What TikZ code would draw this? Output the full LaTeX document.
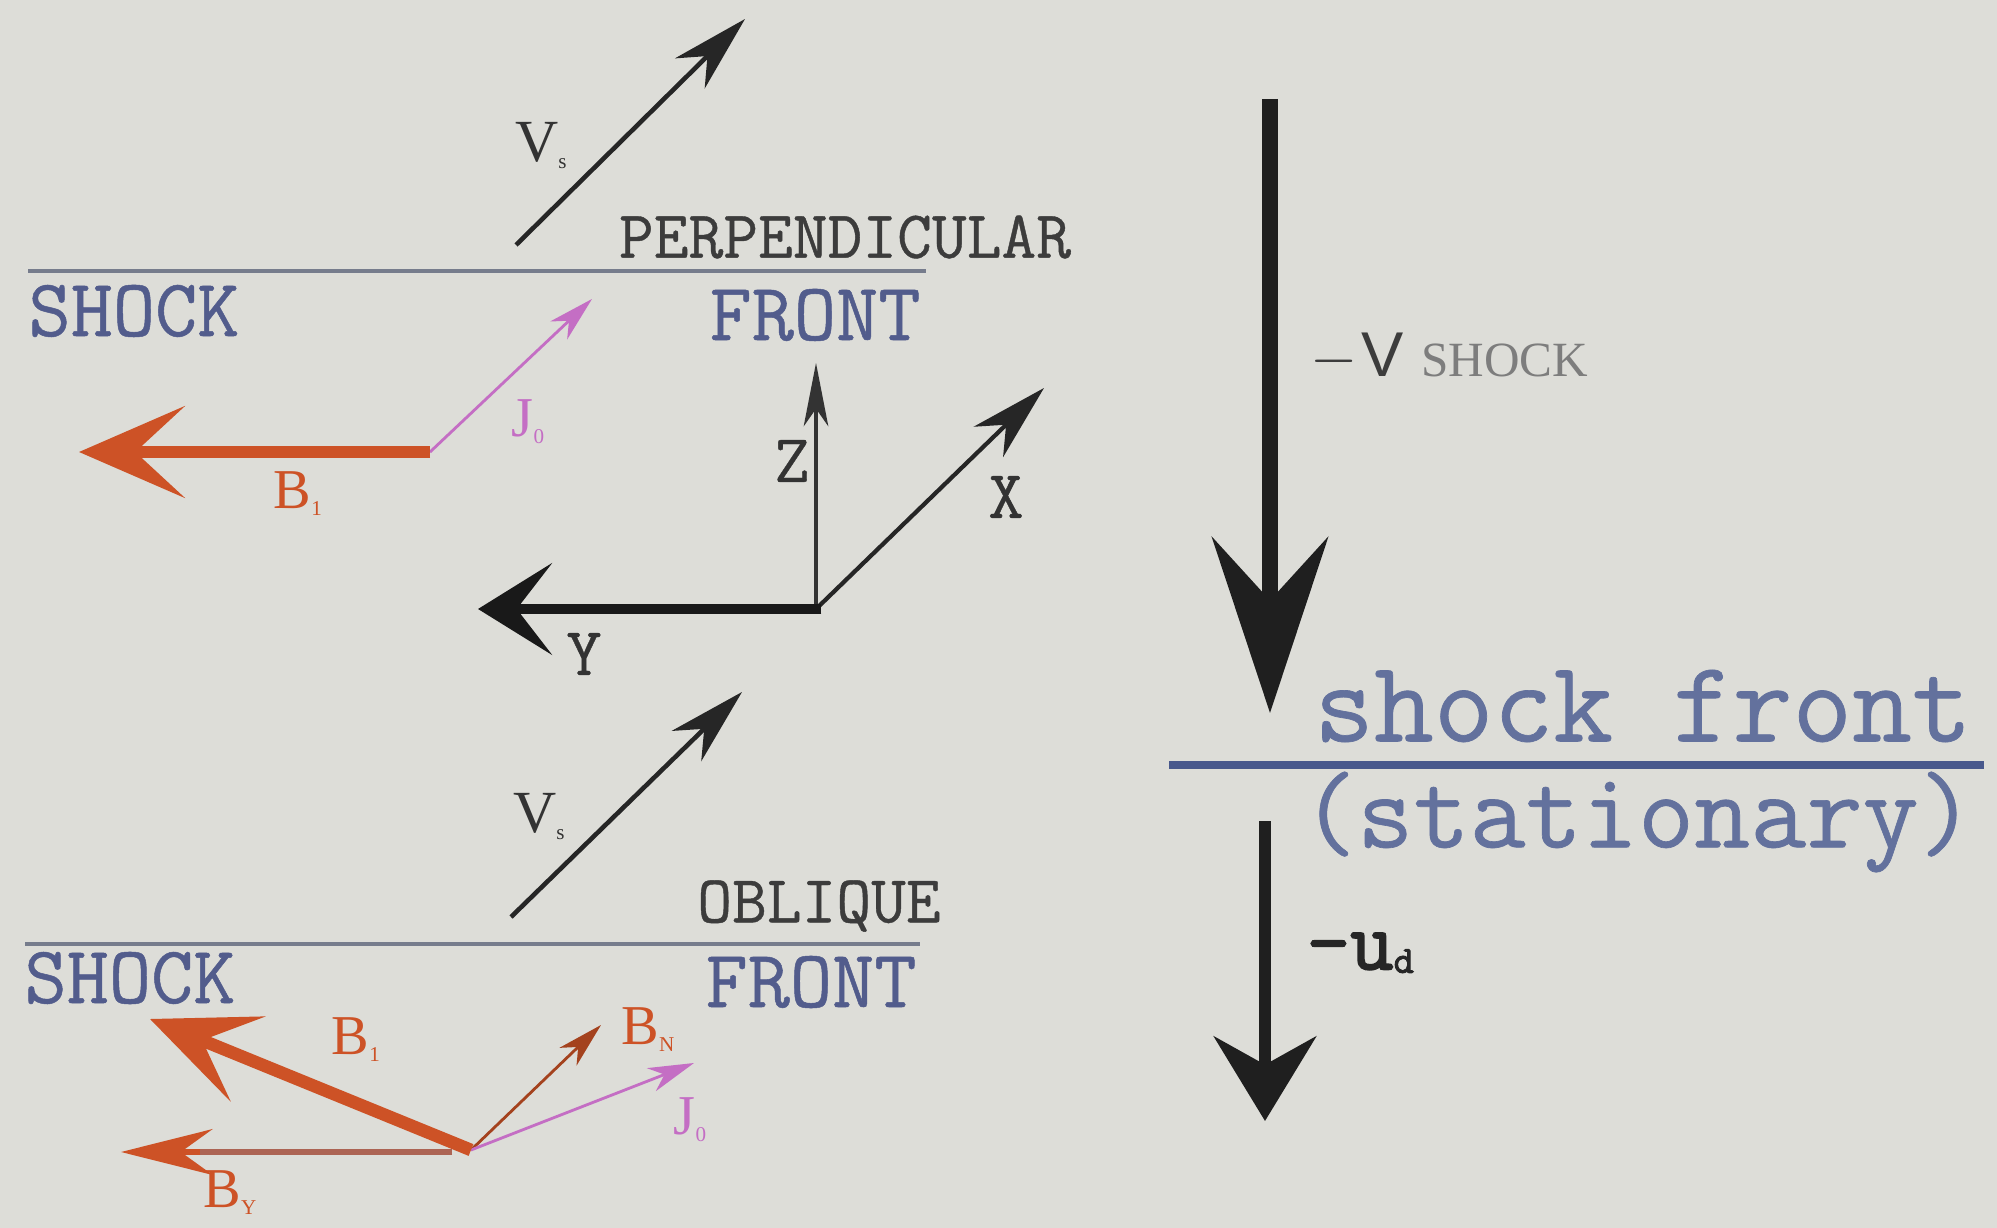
\documentclass[tikz,border=0pt]{standalone}
\usepackage{fontspec}
\usetikzlibrary{arrows.meta}
\newfontfamily\monof[FakeBold=0.6]{Latin Modern Mono}
\newfontfamily\monobf[FakeBold=2.2]{Latin Modern Mono}
\newfontfamily\seriff{Liberation Serif}
\newfontfamily\sansf{Liberation Sans}
\definecolor{bgcol}{RGB}{221,221,216}
\definecolor{orng}{RGB}{205,82,38}
\definecolor{mgnt}{RGB}{196,110,196}
\definecolor{bluetxt}{RGB}{82,92,140}
\definecolor{graytxt}{RGB}{60,60,60}
\definecolor{lightgraytxt}{RGB}{125,125,125}
\definecolor{frontline}{RGB}{118,124,140}
\definecolor{frontblue}{RGB}{72,88,140}
\definecolor{brownline}{RGB}{172,100,84}
\newcommand{\lbl}[2]{#1\raisebox{-2pt}{\fontsize{6}{6}\selectfont #2}}
\begin{document}
\begin{tikzpicture}[x=0.01cm,y=-0.01cm,
  thinblk/.style={draw=black!85, line width=1.3pt, -{Stealth[length=22pt,width=12pt,inset=7pt]}},
  zaxis/.style={draw=black!80, line width=0.9pt, -{Stealth[length=18pt,width=7pt,inset=5pt]}},
  thickblk/.style={draw=black!90, line width=3pt, -{Stealth[length=21pt,width=26pt,inset=10pt]}},
  thickor/.style={draw=orng, line width=3.6pt, -{Stealth[length=30pt,width=26pt,inset=14pt]}},
  thinor/.style={draw=orng!80!black, line width=0.8pt, -{Stealth[length=13pt,width=7pt,inset=4pt]}},
  thinmg/.style={draw=mgnt, line width=0.8pt, -{Stealth[length=13pt,width=7pt,inset=4pt]}},
  bylinestyle/.style={draw=brownline, line width=1.9pt},
  byhead/.style={draw=orng, -{Stealth[length=26pt,width=13pt,inset=9pt]}},
  bigdown/.style={draw=black!88, line width=4.3pt, -{Stealth[length=50pt,width=33pt,inset=18pt]}},
  smalldown/.style={draw=black!88, line width=3.4pt, -{Stealth[length=24pt,width=29pt,inset=8pt]}},
  shockline/.style={draw=frontline, line width=1.4pt},
  frontlbl/.style={text=bluetxt, font=\monof\fontsize{23.3}{25}\selectfont, inner sep=0pt},
  typelbl/.style={text=graytxt, font=\monof\fontsize{19.2}{21}\selectfont, inner sep=0pt},
  axlbl/.style={text=black!80, font=\monof\fontsize{19.5}{21}\selectfont, inner sep=0pt},
  vlbl/.style={text=black!80, font=\seriff\fontsize{17}{18}\selectfont, inner sep=0pt},
  orlbl/.style={text=orng, font=\seriff\fontsize{16}{18}\selectfont, inner sep=0pt},
  mglbl/.style={text=mgnt, font=\seriff\fontsize{16}{18}\selectfont, inner sep=0pt},
  biglbl/.style={text=frontblue!85, font=\monof\fontsize{33}{35}\selectfont, inner sep=0pt}
]
\fill[bgcol] (0,0) rectangle (1997,1228);
\useasboundingbox (0,0) rectangle (1997,1228);

% ---------- top panel (perpendicular) ----------
\coordinate (vsA1) at (516,245);
\coordinate (vsA2) at (745,19);
\draw[thinblk] (vsA1) -- (vsA2);
\node[vlbl] (vsAl) at (541,146) {\lbl{V}{s}};

\coordinate (shA1) at (28,271);
\coordinate (shA2) at (926,271);
\draw[shockline] (shA1) -- (shA2);
\node[typelbl] (perp) at (845,237) {PERPENDICULAR};
\node[frontlbl] (shockA) at (134,311) {SHOCK};
\node[frontlbl] (frontA) at (815,315) {FRONT};

\coordinate (oA) at (430,452);
\coordinate (jA) at (592,299);
\coordinate (bA) at (79,452);
\draw[thinmg] (oA) -- (jA);
\draw[thickor] (oA) -- (bA);
\node[mglbl] (jAl) at (528,422) {\lbl{J}{0}};
\node[orlbl] (bAl) at (298,494) {\lbl{B}{1}};

% axes
\coordinate (ax0) at (816,609);
\coordinate (axZ) at (816,363);
\coordinate (axX) at (1044,388);
\coordinate (axY) at (478,609);
\draw[zaxis] (ax0) -- (axZ);
\draw[thinblk, line width=1.2pt] (ax0) -- (axX);
\draw[thickblk] ([xshift=1.5pt]ax0) -- (axY);
\node[axlbl] (zl) at (792,461) {Z};
\node[axlbl] (xl) at (1006,497) {X};
\node[axlbl] (yl) at (584,654) {Y};

% ---------- bottom panel (oblique) ----------
\coordinate (vsB1) at (511,917);
\coordinate (vsB2) at (742,692);
\draw[thinblk] (vsB1) -- (vsB2);
\node[vlbl] (vsBl) at (539,817) {\lbl{V}{s}};

\coordinate (shB1) at (25,944);
\coordinate (shB2) at (920,944);
\draw[shockline] (shB1) -- (shB2);
\node[typelbl] (obl) at (819,906) {OBLIQUE};
\node[frontlbl] (shockB) at (130,978) {SHOCK};
\node[frontlbl] (frontB) at (811,982) {FRONT};

\coordinate (oB) at (471,1150);
\coordinate (bsB) at (150,1019);
\coordinate (bnB) at (601,1025);
\coordinate (jsB) at (694,1063);
\coordinate (by1) at (452,1152);
\coordinate (by2) at (200,1152);
\coordinate (byT) at (121,1152);
\draw[thinor] (oB) -- (bnB);
\draw[thinmg] (oB) -- (jsB);
\draw[bylinestyle] (by1) -- (by2);
\draw[byhead, line width=1.9pt] (by2) -- (byT);
\draw[thickor] (oB) -- (bsB);
\node[orlbl] (bsBl) at (356,1040) {\lbl{B}{1}};
\node[orlbl] (bnBl) at (648,1030) {\lbl{B}{N}};
\node[mglbl] (jsBl) at (690,1120) {\lbl{J}{0}};
\node[orlbl] (byBl) at (230,1193) {\lbl{B}{Y}};

% ---------- right panel ----------
\coordinate (bd1) at (1270,99);
\coordinate (bd2) at (1270,713);
\draw[bigdown] (bd1) -- (bd2);
\node[anchor=west, inner sep=0pt] (vshock) at (1310,357)
  {\sansf\color{graytxt}\fontsize{18}{20}\selectfont $-$\kern1pt V\kern5pt\seriff\color{lightgraytxt}\fontsize{14}{15}\selectfont SHOCK};

\coordinate (fl1) at (1169,765);
\coordinate (fl2) at (1984,765);
\draw[draw=frontblue, line width=2.2pt] (fl1) -- (fl2);
\node[biglbl] (sfront) at (1643,706) {shock front};
\node[biglbl, font=\monof\fontsize{31}{33}\selectfont] (stat) at (1638,822) {(stationary)};

\coordinate (sd1) at (1265,821);
\coordinate (sd2) at (1265,1121);
\draw[smalldown] (sd1) -- (sd2);
\node[anchor=west, inner sep=0pt] (ud) at (1306,953)
  {\monobf\color{black!85}\fontsize{24}{25}\selectfont -u\raisebox{-1pt}{\fontsize{11}{11}\selectfont d}};
\end{tikzpicture}
\end{document}
